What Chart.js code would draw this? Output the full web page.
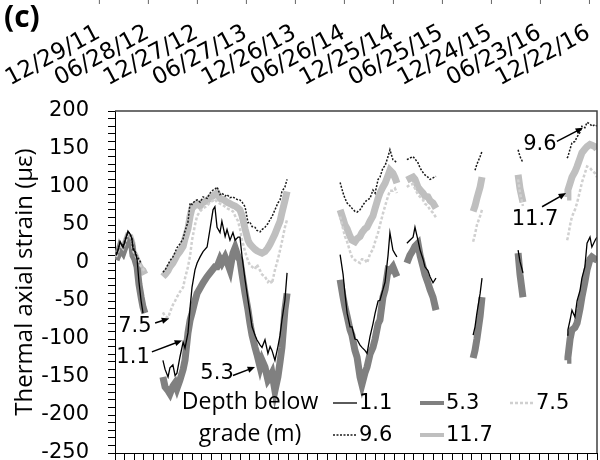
<!DOCTYPE html>
<html>
<head>
<meta charset="utf-8">
<script src="https://cdn.jsdelivr.net/npm/chart.js@4.4.1/dist/chart.umd.min.js"></script>
<style>
  html, body { margin: 0; padding: 0; background: #fff; }
</style>
</head>
<body>
<canvas id="strain-chart" width="600" height="460"></canvas>
<script>
// Days counted from 12/29/11; a null row separates the gaps in the record
const days = [
  62, 69, 77, 88, 99, 106, 114, 121, 125, 132, 140, 147, 155, 162, 169,
  200,
  236, 244, 255, 262, 273, 281, 288, 299, 311, 318, 329, 337, 344, 355, 363, 374, 385, 400, 411, 422,
  429, 437, 448, 455, 467, 474, 485, 496, 504, 515, 522, 530, 541, 552, 559, 567, 578, 585, 597, 604,
  615, 626, 634, 641, 652, 663, 671, 678, 689, 697,
  800,
  894, 905, 912, 920, 931, 938, 949, 957, 968, 975, 986, 994, 1005, 1016, 1024, 1035,
  1042, 1053, 1061, 1072, 1079, 1090, 1098, 1105,
  1120,
  1142, 1153, 1165, 1172, 1183, 1191, 1202, 1209, 1220, 1228, 1239, 1250,
  1350,
  1388, 1395, 1402, 1414, 1421,
  1500,
  1555, 1562, 1573,
  1650,
  1737, 1740, 1748, 1755, 1766, 1774, 1785, 1792, 1803, 1811, 1822, 1829, 1841, 1848
];

// Depth 1.1 m
const strain1_1 = [
  10, 16, 28, 20, 33, 42, 38, 32, 18, 15, 5, -25, -50, -66, null,
  null,
  -128, -140, -150, -138, -134, -148, -145, -124, -104, -112, -92, -58, -32, -9, 0, 8, 15, 21, 45, 70,
  74, 47, 40, 55, 35, 44, 30, 40, 30, 34, 34, 8, -22, -49, -65, -84, -95, -101, -108, -111,
  -101, -119, -110, -115, -128, -110, -95, -75, -49, -13,
  null,
  11, -15, -40, -66, -84, -84, -100, -101, -108, -111, -115, -119, -97, -80, -66, -50,
  -49, -35, -25, 10, 40, 17, 12, 8,
  null,
  26, 30, 34, 47, 30, 17, 5, -5, -10, -18, -26, -20,
  null,
  -95, -84, -66, -40, -20,
  null,
  17, 2, -13,
  null,
  -95, -88, -75, -62, -71, -50, -36, -20, -5, 26, 34, 21, 30, 34
];

// Depth 5.3 m
const strain5_3 = [
  4, 10, 20, 14, 25, 32, 30, 22, 10, 5, -5, -28, -45, -58, -66,
  null,
  -150, -163, -168, -172, -162, -158, -165, -154, -140, -128, -92, -75, -66, -50, -40, -33, -26, -18, -13, -8,
  -5, -5, 5, 0, 8, 2, -9, 13, 20, 8, 4, -15, -40, -62, -79, -95, -111, -120, -137, -128,
  -137, -154, -150, -145, -168, -150, -130, -111, -62, -40,
  null,
  -22, -45, -58, -70, -88, -95, -115, -124, -150, -160, -145, -137, -120, -111, -100, -80,
  -75, -45, -35, -9, -10, -5, -12, -18,
  null,
  0, 10, 17, 22, 26, 10, -5, -15, -26, -35, -45, -62,
  null,
  -125, -115, -100, -70, -45,
  null,
  13, -15, -45,
  null,
  -128, -124, -100, -88, -85, -79, -60, -45, -25, -9, 5, 8, 5, 4
];

// Depth 7.5 m
const strain7_5 = [
  8, 14, 24, 19, 30, 37, 36, 28, 16, 12, 5, 0, -5, -8, -12,
  null,
  -65, -70, -72, -65, -55, -50, -45, -38, -32, -20, -5, 10, 30, 50, 62, 68, 72, 75, 80, 82,
  84, 80, 78, 77, 74, 72, 70, 68, 62, 55, 45, 30, 15, 3, -3, -5, -8, -2, -10, -15,
  -18, -25, -22, -27, -9, 5, 17, 28, 47, 57,
  null,
  61, 45, 35, 28, 15, 8, 4, 2, 0, 5, 5, 0, 12, 18, 28, 40,
  50, 65, 75, 88, 95, 95, 98, 92,
  null,
  100, 103, 104, 98, 90, 87, 83, 78, 75, 70, 66, 60,
  null,
  28, 38, 50, 62, 70,
  null,
  110, 92, 75,
  null,
  30, 34, 50, 61, 70, 79, 95, 106, 118, 127, 125, 122, 118, 113
];

// Depth 9.6 m
const strain9_6 = [
  12, 18, 27, 22, 34, 40, 39, 30, 20, 16, 8, 5, 0, null, null,
  null,
  -12, -9, -2, 3, 8, 14, 20, 25, 32, 42, 54, 79, 77, 82, 83, 80, 87, 85, 92, 96,
  97, 100, 90, 92, 88, 90, 86, 87, 85, 83, 83, 80, 74, 53, 54, 48, 47, 43, 41, 44,
  47, 52, 57, 61, 70, 79, 83, 94, 100, 110,
  null,
  106, 92, 85, 79, 75, 72, 68, 67, 70, 74, 80, 83, 85, 96, 92, 110,
  113, 125, 128, 140, 149, 136, 134, 132,
  null,
  136, 138, 140, 137, 132, 125, 119, 116, 113, 110, 112, 114,
  null,
  null, 122, 130, 140, 147,
  null,
  149, 140, 132,
  null,
  138, 140, 150, 158, 160, 166, 172, 180, 178, 185, 183, 180, 182, 180
];

// Depth 11.7 m
const strain11_7 = [
  6, 12, 22, 16, 28, 35, 34, 26, 14, 10, 3, -3, -8, -10, -15,
  null,
  -18, -15, -10, -5, 0, 5, 10, 15, 22, 32, 45, 62, 72, 76, 78, 75, 80, 82, 86, 88,
  90, 92, 85, 84, 82, 80, 78, 76, 75, 72, 70, 62, 45, 30, 25, 22, 18, 16, 14, 13,
  15, 20, 25, 30, 38, 48, 55, 66, 82, 94,
  null,
  70, 58, 50, 45, 35, 30, 28, 32, 35, 40, 45, 47, 55, 62, 72, 85,
  92, 100, 105, 115, 122, 118, 112, 105,
  null,
  109, 111, 113, 110, 100, 96, 92, 88, 87, 82, 79, 72,
  null,
  68, 75, 85, 100, 113,
  null,
  116, 98, 80,
  null,
  87, 96, 105, 113, 120, 127, 138, 145, 150, 153, 156, 155, 153, 150
];

// Date labels along the top (days from 12/29/11)
const dateLabels = ['12/29/11', '06/28/12', '12/27/12', '06/27/13', '12/26/13', '06/26/14',
                    '12/25/14', '06/25/15', '12/24/15', '06/23/16', '12/22/16'];
const dateDays = [0, 182, 364, 546, 728, 910, 1092, 1274, 1456, 1638, 1820];

// Depth labels with arrows, in data units (day, strain)
const callouts = [
  { text: '7.5', at: [132, -84], from: [207, -79], to: [259, -73] },
  { text: '1.1', at: [125, -124], from: [195, -117], to: [307, -102] },
  { text: '5.3', at: [437, -145], from: [496, -148], to: [578, -137] },
  { text: '9.6', at: [1636, 156], from: [1699, 160], to: [1796, 178] },
  { text: '11.7', at: [1618, 57], from: [1644, 74], to: [1733, 92] }
];

const WORD_FONT = "'Open Sans', sans-serif";
const NUM_FONT = "'DejaVu Sans', sans-serif";

function toPoints(values) {
  return days.map((d, i) => ({ x: d, y: values[i] }));
}

// Draws the pieces Chart.js has no option for: frame, top dates, callouts, legend
const extras = {
  id: 'extras',
  afterDatasetsDraw(chart) {
    const { ctx, chartArea, scales: { x, y } } = chart;
    ctx.save();

    // top and right frame
    ctx.strokeStyle = '#404040';
    ctx.lineWidth = 1.5;
    ctx.beginPath();
    ctx.moveTo(chartArea.left, chartArea.top);
    ctx.lineTo(chartArea.right, chartArea.top);
    ctx.lineTo(chartArea.right, chartArea.bottom);
    ctx.stroke();

    // (c)
    ctx.fillStyle = '#000';
    ctx.font = 'bold 30px ' + WORD_FONT;
    ctx.textAlign = 'left';
    ctx.textBaseline = 'alphabetic';
    ctx.fillText('(c)', 4, 27);

    // dates and their little ticks at the very top
    ctx.font = '23px ' + NUM_FONT;
    ctx.textAlign = 'right';
    dateLabels.forEach((label, i) => {
      const px = x.getPixelForValue(dateDays[i]);
      ctx.strokeStyle = '#666';
      ctx.lineWidth = 1;
      ctx.beginPath();
      ctx.moveTo(px, 0);
      ctx.lineTo(px, 4);
      ctx.stroke();
      ctx.save();
      ctx.translate(px + 2, 37);
      ctx.rotate(-28 * Math.PI / 180);
      ctx.fillText(label, 0, 0);
      ctx.restore();
    });

    // callouts with arrows
    ctx.font = '21px ' + NUM_FONT;
    ctx.textAlign = 'center';
    ctx.textBaseline = 'middle';
    callouts.forEach(c => {
      ctx.fillStyle = '#000';
      ctx.fillText(c.text, x.getPixelForValue(c.at[0]), y.getPixelForValue(c.at[1]));
      const x1 = x.getPixelForValue(c.from[0]), y1 = y.getPixelForValue(c.from[1]);
      const x2 = x.getPixelForValue(c.to[0]), y2 = y.getPixelForValue(c.to[1]);
      const ang = Math.atan2(y2 - y1, x2 - x1);
      ctx.strokeStyle = '#000';
      ctx.lineWidth = 1.5;
      ctx.beginPath();
      ctx.moveTo(x1, y1);
      ctx.lineTo(x2 - 5 * Math.cos(ang), y2 - 5 * Math.sin(ang));
      ctx.stroke();
      ctx.beginPath();
      ctx.moveTo(x2, y2);
      ctx.lineTo(x2 - 8 * Math.cos(ang - 0.4), y2 - 8 * Math.sin(ang - 0.4));
      ctx.lineTo(x2 - 8 * Math.cos(ang + 0.4), y2 - 8 * Math.sin(ang + 0.4));
      ctx.closePath();
      ctx.fill();
    });

    // legend: title on the left, two rows of samples
    ctx.fillStyle = '#000';
    ctx.font = '23px ' + WORD_FONT;
    ctx.fillText('Depth below', 250, 402);
    ctx.fillText('grade (m)', 250, 434);
    ctx.font = '21px ' + NUM_FONT;
    const slots = [[333, 403], [420, 403], [510, 403], [333, 435], [420, 435]];
    const byLabel = {};
    chart.data.datasets.forEach(ds => { byLabel[ds.label] = ds; });
    ['1.1', '5.3', '7.5', '9.6', '11.7'].forEach((name, i) => {
      const ds = byLabel[name];
      const [sx, sy] = slots[i];
      ctx.strokeStyle = ds.borderColor;
      ctx.lineWidth = Math.min(ds.borderWidth, 4);
      ctx.setLineDash(ds.borderDash || []);
      ctx.beginPath();
      ctx.moveTo(sx, sy);
      ctx.lineTo(sx + 24, sy);
      ctx.stroke();
      ctx.setLineDash([]);
      ctx.textAlign = 'left';
      ctx.fillText(name, sx + 26, sy + 1);
    });

    ctx.restore();
  }
};

const ctx = document.getElementById('strain-chart').getContext('2d');
const chartInstance = new Chart(ctx, {
  type: 'line',
  data: {
    datasets: [
      { label: '1.1', data: toPoints(strain1_1), borderColor: '#000000', borderWidth: 1.3, order: 0 },
      { label: '9.6', data: toPoints(strain9_6), borderColor: '#1a1a1a', borderWidth: 1.5, borderDash: [2, 1.5], order: 1 },
      { label: '7.5', data: toPoints(strain7_5), borderColor: '#d0d0d0', borderWidth: 2.5, borderDash: [3, 2], order: 2 },
      { label: '5.3', data: toPoints(strain5_3), borderColor: '#808080', borderWidth: 7, order: 3 },
      { label: '11.7', data: toPoints(strain11_7), borderColor: '#bfbfbf', borderWidth: 7, order: 4 }
    ]
  },
  options: {
    responsive: false,
    animation: false,
    devicePixelRatio: 1,
    layout: { padding: { top: 111, right: 3, left: 0, bottom: 0 } },
    elements: {
      point: { radius: 0 },
      line: { tension: 0, fill: false }
    },
    plugins: {
      legend: { display: false },
      tooltip: { enabled: false }
    },
    scales: {
      x: {
        type: 'linear',
        min: 58,
        max: 1848,
        // 50 equal tick intervals along the bottom
        afterBuildTicks: scale => {
          scale.ticks = Array.from({ length: 51 }, (_, i) => ({ value: 58 + i * (1848 - 58) / 50 }));
        },
        afterFit: scale => { scale.height = 7; },
        ticks: { display: false },
        grid: { drawOnChartArea: false, tickLength: 7, color: '#000' },
        border: { color: '#000', width: 1 }
      },
      y: {
        min: -250,
        max: 200,
        afterFit: scale => {
          scale.width = 115;
          scale.paddingTop = 0;
          scale.paddingBottom = 0;
        },
        ticks: {
          stepSize: 10,
          autoSkip: false,
          padding: 19,
          color: '#000',
          font: { family: NUM_FONT, size: 21 },
          callback: v => (v % 50 === 0 ? v : '')
        },
        grid: { drawOnChartArea: false, tickLength: 7, color: '#000' },
        border: { color: '#000', width: 1 },
        title: {
          display: true,
          text: 'Thermal axial strain (με)',
          color: '#000',
          font: { family: WORD_FONT, size: 24 },
          padding: { top: 11 }
        }
      }
    }
  },
  plugins: [extras]
});
</script>
</body>
</html>
